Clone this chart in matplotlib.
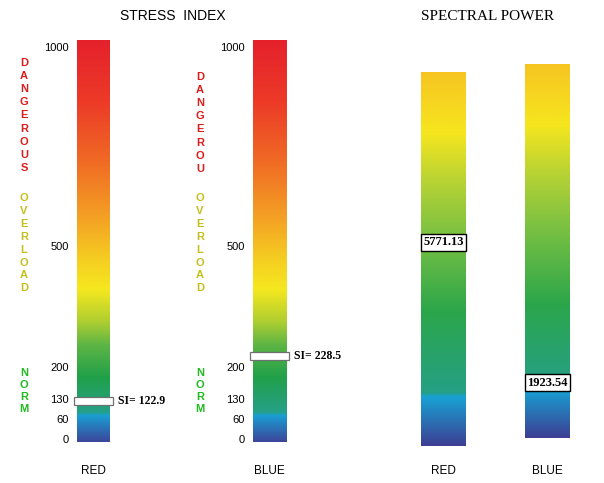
import numpy as np
import matplotlib
matplotlib.use("Agg")
import matplotlib.pyplot as plt
from matplotlib.colors import LinearSegmentedColormap
from matplotlib.patches import Rectangle
from matplotlib import transforms, font_manager

# ---------------- data ----------------
channels = ["RED", "BLUE"]
stress_index = [122.9, 228.5]
stress_ticks = [0, 60, 130, 200, 500, 1000]
zone_labels = ["DANGEROUS", "OVERLOAD", "NORM"]
zone_labels_second = ["DANGEROU", "OVERLOAD", "NORM"]
spectral_power = [5771.13, 1923.54]
spectral_full_scale = [10590, 13080]

# ---------------- styling ----------------
W, H = 604, 483
avail = {f.name for f in font_manager.fontManager.ttflist}
NARROW = "Liberation Sans Narrow" if "Liberation Sans Narrow" in avail else "Liberation Sans"
SERIF = "Liberation Serif"
SANS = "Liberation Sans"

stress_cmap = LinearSegmentedColormap.from_list("stress", [
    (0.00, "#3b479b"), (0.065, "#1a9fd3"), (0.072, "#25a088"),
    (0.16, "#21a04a"), (0.24, "#5db545"), (0.30, "#b0cf30"),
    (0.38, "#f5e81f"), (0.45, "#f5cf21"), (0.56, "#f4a024"),
    (0.70, "#f06a24"), (0.85, "#ec3a28"), (1.00, "#e5212b")])
spec_cmap = LinearSegmentedColormap.from_list("spec", [
    (0.00, "#3d3f93"), (0.13, "#18a2d4"), (0.142, "#25a085"),
    (0.36, "#2ca64a"), (0.57, "#7dc242"), (0.71, "#b8d334"),
    (0.84, "#f6e61e"), (1.00, "#f6c522")])
zone_colors = ["#dd1c1c", "#c4be1e", "#1fbb1f"]

def rect(x0, y0, x1, y1):
    return [x0 / W, 1 - y1 / H, (x1 - x0) / W, (y1 - y0) / H]

# piecewise-linear stress scale (value -> pixels above bar bottom)
kv = np.array(stress_ticks, float)
kh = np.array([3, 23, 43, 75, 196, 395], float)
s0 = (kh[1] - kh[0]) / (kv[1] - kv[0])
s1 = (kh[-1] - kh[-2]) / (kv[-1] - kv[-2])
kv_e = np.concatenate([[kv[0] - 5000], kv, [kv[-1] + 5000]])
kh_e = np.concatenate([[kh[0] - 5000 * s0], kh, [kh[-1] + 5000 * s1]])
fwd = lambda v: np.interp(v, kv_e, kh_e)
inv = lambda h: np.interp(h, kh_e, kv_e)

grad = np.linspace(0, 1, 512).reshape(-1, 1)
LABEL_Y = 470  # pixel row of the channel labels

fig = plt.figure(figsize=(W / 100, H / 100), dpi=100)
fig.patch.set_facecolor("white")

fig.text(173 / W, 1 - 16 / H, "STRESS  INDEX", ha="center", va="center",
         fontsize=10, family=SANS)
fig.text(488 / W, 1 - 17 / H, "SPECTRAL POWER", ha="center", va="center",
         fontsize=11, family=SERIF)

# ---------------- stress index bars ----------------
bar_x = [77, 253]
col_x = [24, 200]
zone_start = [[63, 198, 373], [77, 198, 373]]
zone_pitch = [13.1, 12.9, 12.0]
for i, ch in enumerate(channels):
    x0 = bar_x[i]
    ax = fig.add_axes(rect(x0, 40, x0 + 33, 442))
    ax.imshow(grad, extent=[0, 1, 0, 1], transform=ax.transAxes, origin="lower",
              aspect="auto", cmap=stress_cmap, interpolation="bilinear")
    ax.set_xlim(0, 1)
    ax.set_yscale("function", functions=(fwd, inv))
    ax.set_ylim(inv(0), inv(402))
    ax.set_yticks(stress_ticks)
    ax.set_yticklabels([str(t) for t in stress_ticks], family=SANS, fontsize=8)
    ax.set_xticks([0.5])
    ax.set_xticklabels([ch], family=NARROW, fontsize=8.5)
    ax.tick_params(axis="y", length=0, pad=6)
    ax.tick_params(axis="x", length=0, pad=(LABEL_Y - 5 - 442) * 0.72)
    ax.yaxis.set_minor_locator(matplotlib.ticker.NullLocator())
    for s in ax.spines.values():
        s.set_visible(False)
    # SI marker
    si = stress_index[i]
    ya = (ax.transScale + ax.transLimits).transform((0.5, si))[1]
    hh = 8 / 402
    ax.add_patch(Rectangle((-0.09, ya - hh / 2), 1.18, hh, transform=ax.transAxes,
                           facecolor="white", edgecolor="#707070", lw=0.9,
                           clip_on=False, zorder=5))
    tb = transforms.blended_transform_factory(ax.transAxes, ax.transData)
    ax.text(1.24, si, f"SI= {si}", transform=tb, ha="left", va="center",
            family=SERIF, fontweight="bold", fontsize=8.5, clip_on=False)
    # zone letters
    labels = zone_labels if i == 0 else zone_labels_second
    for z, word in enumerate(labels):
        for k, letter in enumerate(word):
            y = zone_start[i][z] + k * zone_pitch[z]
            fig.text(col_x[i] / W, 1 - y / H, letter, ha="center", va="center",
                     family=NARROW, fontweight="bold", fontsize=8,
                     color=zone_colors[z])

# ---------------- spectral power bars ----------------
spec_rects = [(421, 72, 466, 446), (525, 64, 570, 438)]
for i, ch in enumerate(channels):
    x0, y0, x1, y1 = spec_rects[i]
    ax = fig.add_axes(rect(x0, y0, x1, y1))
    ax.imshow(grad, extent=[0, 1, 0, 1], transform=ax.transAxes, origin="lower",
              aspect="auto", cmap=spec_cmap, interpolation="bilinear")
    ax.set_xlim(0, 1)
    ax.set_ylim(0, spectral_full_scale[i])
    ax.set_yticks([])
    ax.set_xticks([0.5])
    ax.set_xticklabels([ch], family=NARROW, fontsize=8.5)
    ax.tick_params(axis="x", length=0, pad=(LABEL_Y - 5 - y1) * 0.72)
    for s in ax.spines.values():
        s.set_visible(False)
    v = spectral_power[i]
    ax.text(0.5, v, f"{v:.2f}", ha="center", va="center", family=SERIF,
            fontweight="bold", fontsize=9, zorder=5,
            bbox=dict(boxstyle="square,pad=0.2", facecolor="white",
                      edgecolor="black", lw=1))

fig.savefig("out.png", dpi=100, facecolor="white")
